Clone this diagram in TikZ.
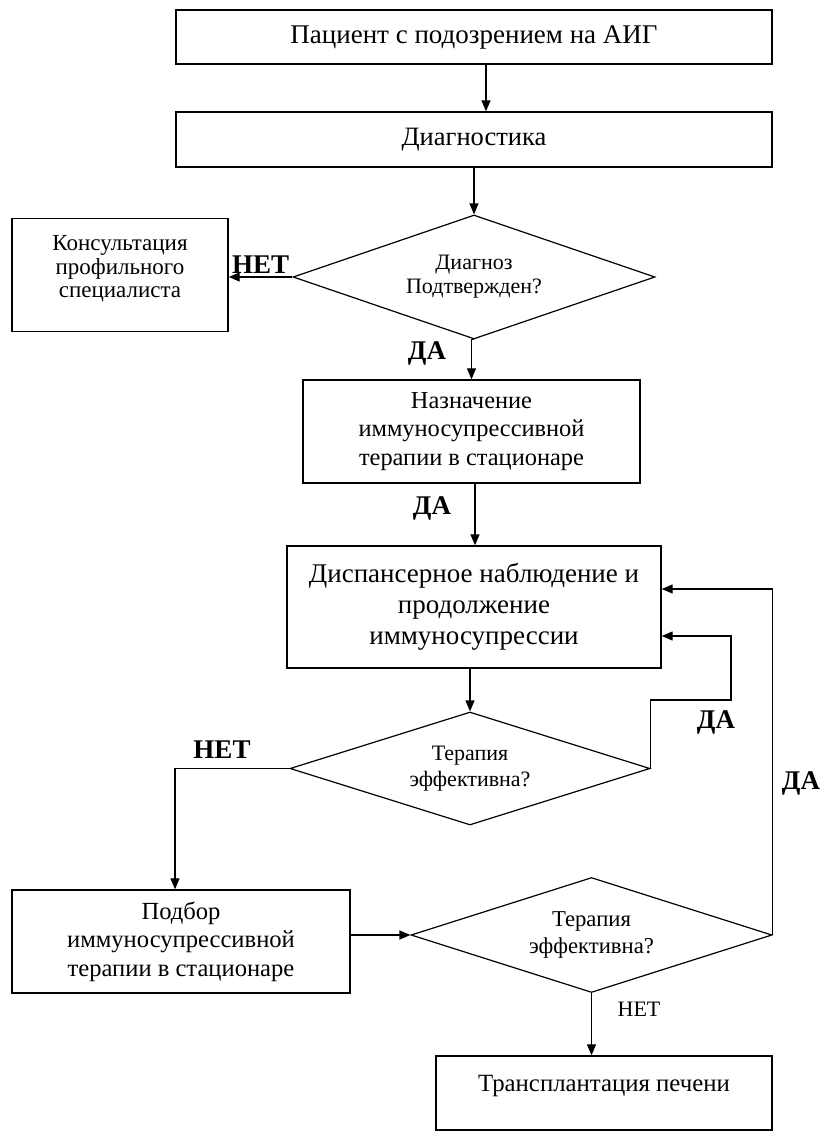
\documentclass[tikz,border=0pt]{standalone}
\usepackage{fontspec}
\setmainfont{Liberation Serif}
\usetikzlibrary{shapes.geometric,arrows.meta}
\tikzset{
  box/.style={draw, line width=1.4pt, align=center, inner sep=0pt, text=black},
  dia/.style={draw, diamond, aspect=2.9, line width=1.2pt, align=center, inner sep=0pt},
  arr/.style={line width=1.2pt, -{Triangle[length=11pt,width=9pt]}},
  lbl/.style={font=\bfseries\fontsize{27}{30}\selectfont},
}
\begin{document}
\begin{tikzpicture}[x=1pt,y=-1pt]
\useasboundingbox (0,0) rectangle (828,1142);
\fill[white] (0,0) rectangle (828,1142);
\node[box, minimum width=596pt, minimum height=54pt, font=\fontsize{27}{30}\selectfont] (box1) at (474,37) {Пациент с подозрением на АИГ};
\node[box, minimum width=596pt, minimum height=55pt, font=\fontsize{26.5}{30}\selectfont] (box2) at (474,139.5) {Диагностика};
\node[dia, minimum width=362pt, minimum height=124pt, font=\fontsize{22}{24}\selectfont] (d1) at (474,277) {Диагноз\\Подтвержден?};
\node[box, minimum width=216pt, minimum height=113pt, font=\fontsize{23}{23.5}\selectfont] (kons) at (120,275) {Консультация\\профильного\\специалиста\\[-7pt]\mbox{}};
\node[box, minimum width=337pt, minimum height=103pt, font=\fontsize{24.4}{28.5}\selectfont] (nazn) at (471.5,431.5) {Назначение\\иммуносупрессивной\\терапии в стационаре};
\node[box, minimum width=374pt, minimum height=122pt, font=\fontsize{27}{31}\selectfont] (disp) at (474,607) {Диспансерное наблюдение и\\продолжение\\иммуносупрессии};
\node[dia, minimum width=360pt, minimum height=113pt, font=\fontsize{22}{26.5}\selectfont] (d2) at (470,768.5) {Терапия\\эффективна?};
\node[box, minimum width=338pt, minimum height=103pt, font=\fontsize{24.6}{28.5}\selectfont] (podb) at (181,941.5) {Подбор\\иммуносупрессивной\\терапии в стационаре};
\node[dia, minimum width=361pt, minimum height=115pt, font=\fontsize{22.7}{27}\selectfont] (d3) at (591.5,935) {Терапия\\эффективна?};
\node[box, minimum width=336pt, minimum height=74pt, font=\fontsize{24.8}{20}\selectfont] (tran) at (604,1093) {Трансплантация печени\\\mbox{}};

\coordinate (l1) at (731,700);

\draw[arr] ([xshift=12pt]box1.south) -- ([xshift=12pt]box2.north);
\draw[arr] (box2.south) -- (d1.north);
\draw[arr] (d1.west) -- (kons.east |- d1.west) node[lbl, midway, above=0pt] {НЕТ};
\draw[arr] (d1.south) -- (nazn.north |- d1.south) -- (nazn.north);
\node[lbl] (da1) at (427,353) {ДА};
\draw[arr] ([xshift=3.5pt]nazn.south) -- ([xshift=3.5pt]nazn.south |- disp.north);
\node[lbl] (da2) at (432,508) {ДА};
\draw[arr] (d2.north |- disp.south) -- (d2.north);
\draw[arr] (d2.east) -- (d2.east |- l1) -- (l1) |- ([yshift=-29pt]disp.east);
\node[lbl] (da3) at (716,722) {ДА};
\draw[arr] (d3.east) |- ([yshift=18pt]disp.east);
\node[lbl] (da4) at (801,783) {ДА};
\draw[arr] (d2.west) -| ([xshift=-6pt]podb.north);
\node[lbl] (net2) at (222,750) {НЕТ};
\draw[arr] (podb.east |- d3.west) -- (d3.west);
\draw[arr] (d3.south) -- (d3.south |- tran.north);
\node[font=\fontsize{22}{26}\selectfont] (net3) at (639,1009) {НЕТ};
\end{tikzpicture}
\end{document}
